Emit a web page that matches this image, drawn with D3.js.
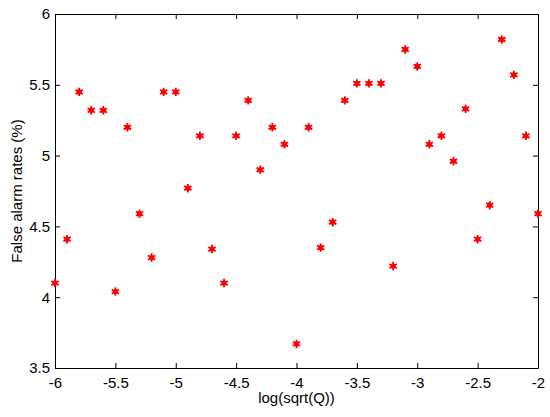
<!DOCTYPE html>
<html>
<head>
<meta charset="utf-8">
<script src="https://cdn.jsdelivr.net/npm/d3@7"></script>
<style>
  body { margin: 0; background: #fff; }
  text { font-family: 'Liberation Sans', Arial, sans-serif; }
</style>
</head>
<body>
<figure style="margin:0"></figure>
<script>
const width = 550
const height = 417

// log(sqrt(Q)) values and false alarm rates
const xValues = [-6, -5.9, -5.8, -5.7, -5.6, -5.5, -5.4, -5.3, -5.2, -5.1,
  -5, -4.9, -4.8, -4.7, -4.6, -4.5, -4.4, -4.3, -4.2, -4.1,
  -4, -3.9, -3.8, -3.7, -3.6, -3.5, -3.4, -3.3, -3.2, -3.1,
  -3, -2.9, -2.8, -2.7, -2.6, -2.5, -2.4, -2.3, -2.2, -2.1, -2]
const rates = [4.10, 4.41, 5.45, 5.32, 5.32, 4.04, 5.20, 4.59, 4.28, 5.45,
  5.45, 4.77, 5.14, 4.34, 4.10, 5.14, 5.39, 4.90, 5.20, 5.08,
  3.67, 5.20, 4.35, 4.53, 5.39, 5.51, 5.51, 5.51, 4.22, 5.75,
  5.63, 5.08, 5.14, 4.96, 5.33, 4.41, 4.65, 5.82, 5.57, 5.14, 4.59]
const xTicks = [-6, -5.5, -5, -4.5, -4, -3.5, -3, -2.5, -2]
const yTicks = [3.5, 4, 4.5, 5, 5.5, 6]

const margin = { top: 14, right: 12, bottom: 49, left: 55 }
const x = d3.scaleLinear().domain([-6, -2]).range([margin.left, width - margin.right])
const y = d3.scaleLinear().domain([3.5, 6]).range([height - margin.bottom, margin.top])

const svg = d3.select('figure').append('svg')
  .attr('width', width)
  .attr('height', height)

const fmt = d => String(d).replace('-', '-')

// axes with inward ticks, box style
const axisStyle = g => {
  g.select('.domain').attr('stroke', '#000').attr('stroke-width', 1)
  g.selectAll('.tick line').attr('stroke', '#000')
  g.selectAll('.tick text').attr('fill', '#000').attr('font-size', 15)
    .attr('font-family', "'Liberation Sans', Arial, sans-serif")
}

svg.append('g')
  .attr('transform', `translate(0,${y(3.5)})`)
  .call(d3.axisBottom(x).tickValues(xTicks).tickFormat(fmt).tickSizeInner(-5).tickSizeOuter(0).tickPadding(9))
  .call(axisStyle)

svg.append('g')
  .attr('transform', `translate(0,${y(6)})`)
  .call(d3.axisTop(x).tickValues(xTicks).tickFormat('').tickSizeInner(-5).tickSizeOuter(0))
  .call(axisStyle)

svg.append('g')
  .attr('transform', `translate(${x(-6)},0)`)
  .call(d3.axisLeft(y).tickValues(yTicks).tickFormat(fmt).tickSizeInner(-5).tickSizeOuter(0).tickPadding(5))
  .call(axisStyle)

svg.append('g')
  .attr('transform', `translate(${x(-2)},0)`)
  .call(d3.axisRight(y).tickValues(yTicks).tickFormat('').tickSizeInner(-5).tickSizeOuter(0))
  .call(axisStyle)

// points: red asterisk markers
const points = svg.append('g')
  .selectAll('g')
  .data(xValues.map((v, i) => ({ x: v, y: rates[i] })))
  .join('g')
  .attr('transform', d => `translate(${x(d.x)},${y(d.y)})`)

points.append('path')
  .attr('d', d3.symbol(d3.symbolAsterisk, 50)())
  .attr('stroke', '#f00')
  .attr('stroke-width', 1.8)
  .attr('fill', 'none')

points.append('circle')
  .attr('r', 2.6)
  .attr('fill', '#f00')

// axis labels
svg.append('text')
  .attr('x', (x(-6) + x(-2)) / 2)
  .attr('y', 403)
  .attr('text-anchor', 'middle')
  .attr('font-size', 15)
  .text('log(sqrt(Q))')

svg.append('text')
  .attr('transform', `translate(22,${(y(3.5) + y(6)) / 2}) rotate(-90)`)
  .attr('text-anchor', 'middle')
  .attr('font-size', 15)
  .text('False alarm rates (%)')
</script>
</body>
</html>
